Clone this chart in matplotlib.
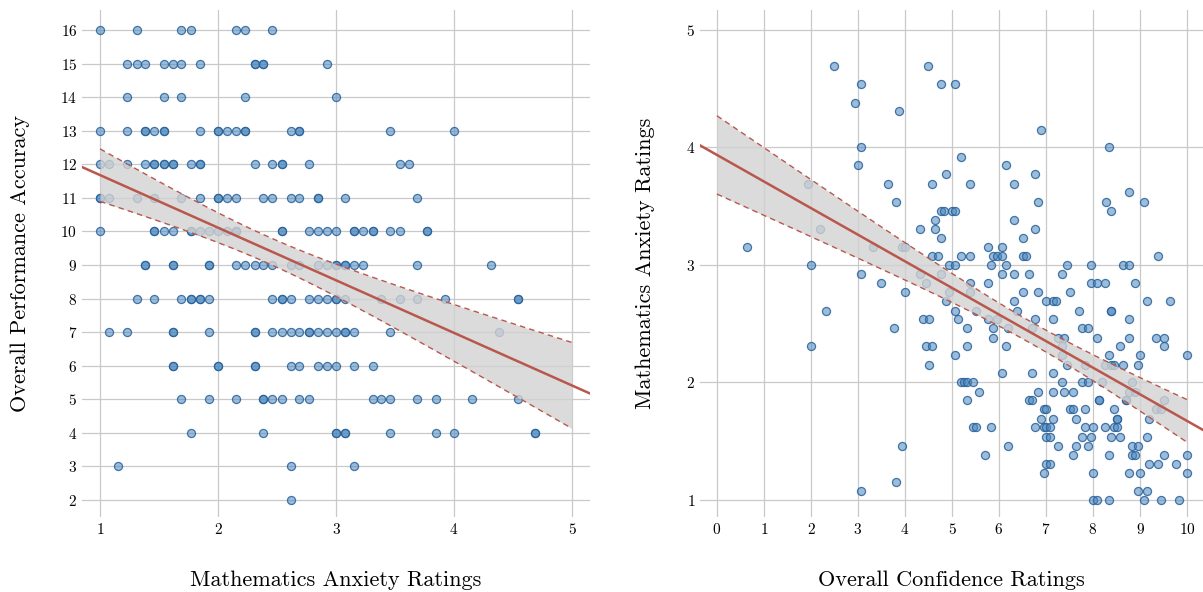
import matplotlib

matplotlib.use("Agg")
import matplotlib.pyplot as plt
import numpy as np

matplotlib.rcParams.update(
    {
        "font.family": ["cmr10", "DejaVu Serif"],
        "mathtext.fontset": "cm",
        "axes.formatter.use_mathtext": True,
        "axes.unicode_minus": False,
    }
)

# Panel A: performance accuracy (y, integer score) vs. anxiety rating (x)
ACC_ROWS = {
    16: [1.00, 1.31, 1.69, 1.77, 2.15, 2.23, 2.46],
    15: [1.23, 1.31, 1.38, 1.54, 1.62, 1.69, 1.85, 2.31, 2.31, 2.38, 2.38, 2.92],
    14: [1.23, 1.54, 1.69, 2.23, 3.00],
    13: [1.00, 1.23, 1.38, 1.38, 1.46, 1.54, 1.54, 1.85, 2.00, 2.00, 2.08, 2.15,
         2.23, 2.23, 2.62, 2.69, 2.69, 3.46, 4.00],
    12: [1.00, 1.08, 1.23, 1.38, 1.46, 1.46, 1.54, 1.54, 1.62, 1.62, 1.77, 1.85,
         1.85, 2.31, 2.46, 2.54, 2.54, 2.77, 3.54, 3.62],
    11: [1.00, 1.00, 1.08, 1.31, 1.46, 1.69, 1.85, 2.00, 2.00, 2.08, 2.15, 2.38,
         2.46, 2.62, 2.69, 2.85, 2.85, 3.08, 3.69],
    10: [1.00, 1.46, 1.46, 1.54, 1.62, 1.77, 1.77, 1.85, 1.92, 2.00, 2.08, 2.15,
         2.15, 2.54, 2.54, 2.77, 2.85, 2.92, 3.00, 3.15, 3.15, 3.23, 3.31, 3.31,
         3.46, 3.54, 3.77, 3.77],
    9: [1.38, 1.38, 1.62, 1.62, 1.92, 1.92, 2.15, 2.23, 2.31, 2.38, 2.46, 2.62,
        2.69, 2.85, 2.92, 3.00, 3.00, 3.08, 3.08, 3.15, 3.23, 3.69, 4.31],
    8: [1.31, 1.46, 1.69, 1.77, 1.77, 1.85, 1.85, 1.92, 2.46, 2.54, 2.54, 2.62,
        2.77, 2.85, 2.92, 3.00, 3.00, 3.08, 3.38, 3.54, 3.69, 3.92, 4.54, 4.54],
    7: [1.08, 1.23, 1.62, 1.62, 1.92, 2.31, 2.31, 2.46, 2.54, 2.62, 2.69, 2.77,
        2.77, 2.85, 2.92, 3.00, 3.08, 3.08, 3.15, 3.46, 4.38],
    6: [1.62, 1.62, 2.00, 2.00, 2.31, 2.31, 2.62, 2.69, 2.85, 2.92, 3.00, 3.15, 3.31],
    5: [1.69, 1.92, 2.15, 2.38, 2.38, 2.46, 2.54, 2.69, 2.77, 3.31, 3.38, 3.46,
        3.69, 3.85, 4.15, 4.54],
    4: [1.77, 2.38, 3.00, 3.00, 3.08, 3.08, 3.46, 3.85, 4.00, 4.69, 4.69],
    3: [1.15, 2.62, 3.15],
    2: [2.62],
}

# Panel B: anxiety rating (y) vs. confidence rating (x)
ANX_ROWS = {
    4.69: [2.50, 4.50],
    4.54: [3.07, 4.76, 5.07],
    4.38: [2.94],
    4.31: [3.88],
    4.15: [6.89],
    4.00: [3.07, 8.33],
    3.92: [5.20],
    3.85: [3.01, 6.14],
    3.77: [4.88, 6.77],
    3.69: [1.94, 3.63, 4.57, 5.38, 6.33],
    3.62: [8.76],
    3.54: [3.82, 6.82, 8.27, 9.08],
    3.46: [4.77, 4.83, 5.00, 5.06, 8.38],
    3.38: [4.64, 6.33],
    3.31: [2.20, 4.32, 4.64, 6.77],
    3.23: [4.77, 6.51],
    3.15: [0.63, 3.32, 3.94, 4.01, 5.76, 6.07],
    3.08: [4.57, 4.70, 5.20, 5.38, 5.88, 5.95, 6.07, 6.51, 6.57, 9.39],
    3.00: [2.01, 4.94, 5.07, 5.82, 6.14, 7.45, 7.95, 8.64, 8.77],
    2.92: [3.07, 4.32, 4.76, 6.07, 6.33, 6.64, 7.33],
    2.85: [3.50, 4.45, 5.38, 5.76, 7.95, 8.08, 8.26, 8.89],
    2.77: [4.01, 4.94, 5.38, 6.51, 6.82, 7.52],
    2.69: [4.88, 6.33, 7.01, 7.14, 7.21, 9.14, 9.64],
    2.61: [2.32, 5.07, 5.51, 6.39, 7.70, 8.38, 8.38],
    2.54: [4.38, 4.51, 5.13, 5.77, 5.95, 6.77, 7.14, 8.76],
    2.46: [3.76, 5.32, 5.88, 6.20, 6.70, 7.77, 7.89],
    2.38: [5.88, 7.26, 7.39, 8.08, 8.76, 9.33, 9.52],
    2.31: [2.01, 4.45, 4.57, 5.32, 6.14, 7.33, 8.57, 9.52],
    2.23: [5.07, 7.33, 8.33, 9.01, 10.01],
    2.15: [4.51, 7.45, 7.82, 8.26, 8.38, 8.45, 8.64, 8.95],
    2.08: [6.07, 6.70, 7.14],
    2.00: [5.20, 5.26, 5.32, 5.45, 7.33, 7.77, 7.89, 8.20, 8.82],
    1.92: [5.57, 6.82, 7.14, 7.39, 7.57, 8.76, 8.89],
    1.85: [5.32, 6.64, 6.70, 8.13, 8.13, 8.70, 8.70, 9.52],
    1.77: [6.95, 7.01, 7.52, 7.57, 7.82, 8.45, 9.33, 9.45],
    1.69: [6.89, 7.14, 7.64, 8.51, 8.51, 9.20],
    1.62: [5.45, 5.51, 5.82, 6.77, 6.95, 7.01, 7.08, 7.82, 8.01, 8.26, 8.45, 8.51],
    1.54: [7.01, 7.08, 7.77, 7.95, 8.38, 8.57, 9.14],
    1.46: [3.94, 6.20, 7.26, 7.64, 7.89, 8.82, 8.95],
    1.38: [5.70, 7.57, 8.33, 8.82, 8.89, 9.52, 10.01],
    1.31: [7.01, 7.08, 9.20, 9.39, 9.77],
    1.23: [6.95, 8.01, 8.76, 9.01, 10.01],
    1.15: [3.82],
    1.08: [3.07, 8.95, 9.14],
    1.00: [8.01, 8.08, 8.33, 9.08, 9.45, 9.83],
}

PANELS = [
    {
        "rows": ACC_ROWS,
        "xlabel": "Mathematics Anxiety Ratings",
        "ylabel": "Overall Performance Accuracy",
        "xticks": [1, 2, 3, 4, 5],
        "yticks": list(range(2, 17)),
        "band_range": (1, 5),
        "xlim": (0.847, 5.153),
        "ylim": (1.49, 16.6),
    },
    {
        "rows": ANX_ROWS,
        "xlabel": "Overall Confidence Ratings",
        "ylabel": "Mathematics Anxiety Ratings",
        "xticks": list(range(0, 11)),
        "yticks": [1, 2, 3, 4, 5],
        "band_range": (0, 10),
        "xlim": (-0.36, 10.34),
        "ylim": (0.855, 5.17),
    },
]

LINE_COLOR = "#b9574d"
POINT_FACE = (0.29, 0.53, 0.75, 0.55)
POINT_EDGE = (0.16, 0.38, 0.60, 0.85)


def flatten(rows):
    xs, ys = [], []
    for yv, xvals in rows.items():
        xs.extend(xvals)
        ys.extend([yv] * len(xvals))
    return np.array(xs, float), np.array(ys, float)


def fit_with_band(x, y, grid, t=1.97):
    n = len(x)
    slope, icpt = np.polyfit(x, y, 1)
    resid = y - (icpt + slope * x)
    s = np.sqrt(np.sum(resid ** 2) / (n - 2))
    sxx = np.sum((x - x.mean()) ** 2)
    se = s * np.sqrt(1 / n + (grid - x.mean()) ** 2 / sxx)
    fit = icpt + slope * grid
    return slope, icpt, fit - t * se, fit + t * se


fig = plt.figure(figsize=(12.03, 5.92), dpi=100)
axes = [
    fig.add_axes([82 / 1203, 75 / 592, 508 / 1203, 507 / 592]),
    fig.add_axes([700 / 1203, 75 / 592, 503 / 1203, 507 / 592]),
]

for ax, p in zip(axes, PANELS):
    x, y = flatten(p["rows"])
    ax.scatter(x, y, s=34, facecolor=POINT_FACE, edgecolor=POINT_EDGE,
               linewidth=0.9, zorder=2)

    lo, hi = p["band_range"]
    grid = np.linspace(lo, hi, 200)
    slope, icpt, low, high = fit_with_band(x, y, grid)
    ax.fill_between(grid, low, high, color="#d2d2d2", alpha=0.8, lw=0, zorder=3)
    ax.plot(grid, low, color=LINE_COLOR, lw=1.0, ls=(0, (4, 3)), zorder=4)
    ax.plot(grid, high, color=LINE_COLOR, lw=1.0, ls=(0, (4, 3)), zorder=4)
    xl = np.array(p["xlim"])
    ax.plot(xl, icpt + slope * xl, color=LINE_COLOR, lw=1.8, zorder=5)

    ax.set_xlim(*p["xlim"])
    ax.set_ylim(*p["ylim"])
    ax.set_xticks(p["xticks"])
    ax.set_yticks(p["yticks"])
    ax.grid(True, color="#c9c9c9", lw=0.9, zorder=0)
    ax.set_axisbelow(True)
    for sp in ax.spines.values():
        sp.set_visible(False)
    ax.tick_params(length=0, labelsize=11, pad=3.5)
    ax.set_xlabel(p["xlabel"], fontsize=16, labelpad=24)
    ax.set_ylabel(p["ylabel"], fontsize=16, labelpad=22)

fig.savefig("out.png", dpi=100)
